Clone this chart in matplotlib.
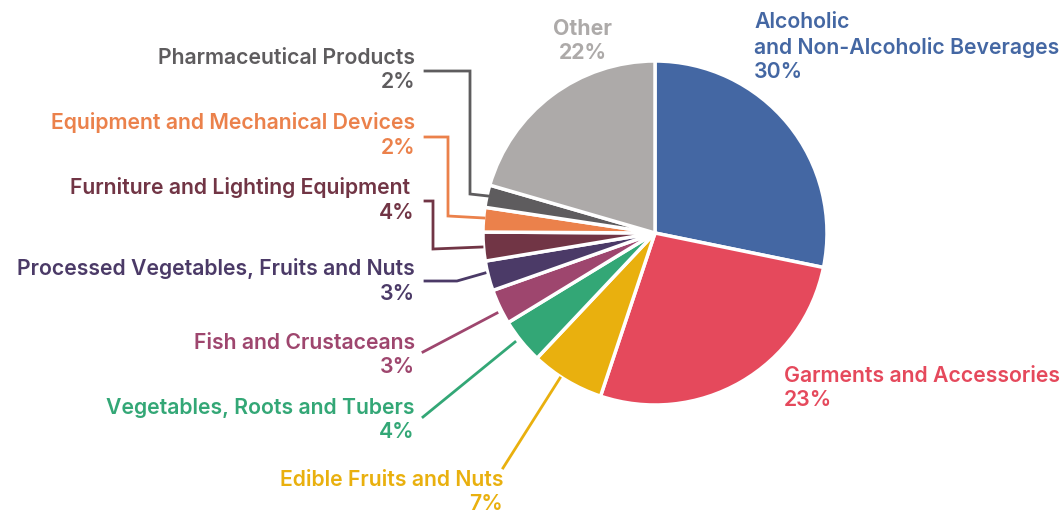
import matplotlib
matplotlib.use("Agg")
import matplotlib.pyplot as plt

# ----------------------------
# Data
# ----------------------------
categories = [
    "Alcoholic\nand Non-Alcoholic Beverages",
    "Garments and Accessories",
    "Edible Fruits and Nuts",
    "Vegetables, Roots and Tubers",
    "Fish and Crustaceans",
    "Processed Vegetables, Fruits and Nuts",
    "Furniture and Lighting Equipment ",
    "Equipment and Mechanical Devices",
    "Pharmaceutical Products",
    "Other",
]
# slice sizes as drawn (share, %)
shares = [28.2, 26.9, 6.9, 4.25, 3.3, 2.8, 2.7, 2.3, 2.1, 20.5]
# percentages as printed on the labels
pct_labels = ["30%", "23%", "7%", "4%", "3%", "3%", "4%", "2%", "2%", "22%"]
colors = ["#4467a3", "#e5495c", "#e9b00e", "#33a776", "#9e466e",
          "#4b3a67", "#713545", "#eb814b", "#5e5c5e", "#adaaa9"]

W, H = 1062, 515
plt.rcParams['font.family'] = ['Inter', 'DejaVu Sans']

fig = plt.figure(figsize=(W / 100, H / 100), dpi=100)
ax = fig.add_axes([0, 0, 1, 1])

def Y(y):
    # image y (top-down) -> data y
    return H - y

ax.pie(shares, colors=colors, startangle=90, counterclock=False,
       center=(655, Y(233)), radius=172,
       wedgeprops=dict(edgecolor='white', linewidth=2.5))

# pie() resets the limits, so set them afterwards
ax.set_xlim(0, W)
ax.set_ylim(0, H)
ax.set_aspect('equal')
ax.axis('off')

FS = 15.3
WT = 'semibold'
LS = 1.27

def label(x, y, i, ha='right'):
    ax.text(x, Y(y), categories[i] + "\n" + pct_labels[i], color=colors[i],
            ha=ha, va='center', fontsize=FS, fontweight=WT,
            linespacing=LS, multialignment=ha)

def leader(pts, i):
    xs = [p[0] for p in pts]
    ys = [Y(p[1]) for p in pts]
    ax.plot(xs, ys, color=colors[i], lw=2, solid_joinstyle='miter')

# right side
label(754, 47, 0, ha='left')
label(784, 388, 1, ha='left')

# top: Other
ax.text(583, Y(41), categories[9] + "\n" + pct_labels[9], color=colors[9],
        ha='center', va='center', fontsize=FS, fontweight='bold', linespacing=LS)

# left side labels
label(415, 70, 8)
label(415, 135, 7)
label(415, 200, 6)
label(415, 281, 5)
label(415, 355, 4)
label(415, 420, 3)
label(503, 492, 2)

# leader lines
leader([(425, 71), (470, 71), (470, 194), (488, 196)], 8)
leader([(425, 137), (448, 137), (448, 216), (484, 218)], 7)
leader([(425, 201), (433, 201), (433, 249), (482, 247)], 6)
leader([(425, 281), (457, 281), (485, 273)], 5)
leader([(423, 352), (497, 313)], 4)
leader([(423, 417), (515, 342)], 3)
leader([(503, 468), (560, 378)], 2)

plt.savefig("out.png", dpi=100)
